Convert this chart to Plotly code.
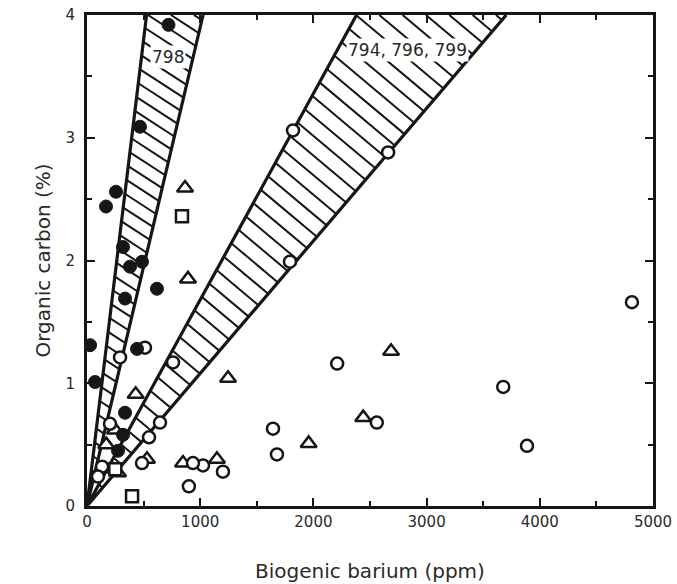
import math
import plotly.graph_objects as go

# ---- data ----
# Site 798 (filled circles)
ba_798 = [720, 468, 256, 168, 318, 380, 486, 618, 336, 27, 442, 71, 336, 318, 274]
c_798 = [3.92, 3.09, 2.56, 2.44, 2.11, 1.95, 1.99, 1.77, 1.69, 1.31, 1.28, 1.01, 0.76, 0.58, 0.45]

# open circles
ba_circ = [1820, 2660, 1793, 292, 512, 760, 2210, 1643, 1678, 1025, 1201, 900, 936,
           486, 645, 548, 3677, 3887, 4814, 2560, 203, 133, 97]
c_circ = [3.06, 2.88, 1.99, 1.21, 1.29, 1.17, 1.16, 0.63, 0.42, 0.33, 0.28, 0.16, 0.35,
          0.35, 0.68, 0.56, 0.97, 0.49, 1.66, 0.68, 0.67, 0.32, 0.24]

# open triangles
ba_tri = [866, 892, 1246, 1958, 2686, 2440, 848, 1148, 430, 530, 274, 247, 170]
c_tri = [2.59, 1.85, 1.04, 0.51, 1.26, 0.72, 0.35, 0.38, 0.91, 0.38, 0.27, 0.62, 0.50]

# open squares
ba_sq = [839, 398, 250]
c_sq = [2.36, 0.08, 0.30]

# Corg / Ba ratio bounds of the hatched fields
wedge_798 = [0.0076, 0.0039]
wedge_794 = [0.00168, 0.00108]
wedge_labels = ["798", "794, 796, 799"]

Y_MAX = 4
X_MAX = 5000

W, H = 677, 584
ML, MR, MT, MB = 87, 24, 15, 78
PLOT_W = W - ML - MR
PLOT_H = H - MT - MB
KX = PLOT_W / X_MAX
KY = PLOT_H / Y_MAX

fig = go.Figure()
INK = "#161616"


def hatch(slopes, angle_deg, spacing):
    """Diagonal hatch lines (down-right) clipped to the wedge between two ratio lines."""
    a1 = slopes[0] * KY / KX
    a2 = slopes[1] * KY / KX
    m = math.tan(math.radians(angle_deg))
    vmax = PLOT_H
    step = spacing * math.sqrt(1 + m * m)
    cmax = vmax + m * vmax / a2
    xs, ys = [], []
    c = step * 0.6
    while c < cmax:
        u1 = c / (a1 + m)
        v1 = a1 * u1
        if v1 > vmax:
            v1 = vmax
            u1 = (c - vmax) / m
        u2 = c / (a2 + m)
        v2 = a2 * u2
        xs += [u1 / KX, u2 / KX, None]
        ys += [v1 / KY, v2 / KY, None]
        c += step
    fig.add_trace(go.Scatter(x=xs, y=ys, mode="lines", line=dict(color=INK, width=2),
                             hoverinfo="skip", showlegend=False))


def wedge(slopes):
    xs = [Y_MAX / slopes[0], 0, Y_MAX / slopes[1]]
    ys = [Y_MAX, 0, Y_MAX]
    fig.add_trace(go.Scatter(x=xs, y=ys, mode="lines",
                             line=dict(color=INK, width=3.2),
                             hoverinfo="skip", showlegend=False))


hatch(wedge_798, 33, 12.5)
hatch(wedge_794, 40, 15)
wedge(wedge_798)
wedge(wedge_794)

mk_line = dict(color=INK, width=2.5)
fig.add_trace(go.Scatter(x=ba_tri, y=c_tri, mode="markers", showlegend=False,
                         marker=dict(symbol="triangle-up", size=14, color="white", line=mk_line)))
fig.add_trace(go.Scatter(x=ba_sq, y=c_sq, mode="markers", showlegend=False,
                         marker=dict(symbol="square", size=12, color="white", line=mk_line)))
fig.add_trace(go.Scatter(x=ba_circ, y=c_circ, mode="markers", showlegend=False,
                         marker=dict(symbol="circle", size=12, color="white", line=mk_line)))
fig.add_trace(go.Scatter(x=ba_798, y=c_798, mode="markers", showlegend=False,
                         marker=dict(symbol="circle", size=13, color=INK,
                                     line=dict(color=INK, width=1))))

FONT = "DejaVu Sans"
TXT = "#2a2a2a"

fig.add_annotation(x=716, y=3.66, text=wedge_labels[0], showarrow=False,
                   bgcolor="white", borderpad=1, font=dict(family=FONT, size=17, color=TXT))
fig.add_annotation(x=2827, y=3.715, text=wedge_labels[1], showarrow=False,
                   bgcolor="white", borderpad=1, font=dict(family=FONT, size=17, color=TXT))

axis_common = dict(
    showgrid=False, zeroline=False, automargin=False,
    showline=True, linecolor=INK, linewidth=3, mirror="ticks",
    ticks="inside", ticklen=8, tickwidth=2, tickcolor=INK,
    tickfont=dict(family=FONT, size=15, color=TXT),
)

fig.update_xaxes(range=[0, X_MAX], dtick=1000, tick0=0,
                 minor=dict(dtick=500, ticks="inside", ticklen=5, tickwidth=2, tickcolor=INK),
                 title=dict(text="Biogenic barium (ppm)", standoff=34,
                            font=dict(family=FONT, size=20, color=TXT)),
                 **axis_common)
fig.update_yaxes(range=[0, Y_MAX], dtick=1, tick0=0,
                 minor=dict(dtick=0.5, ticks="inside", ticklen=5, tickwidth=2, tickcolor=INK),
                 ticklabelstandoff=6,
                 title=dict(text="Organic carbon (%)", standoff=10,
                            font=dict(family=FONT, size=20, color=TXT)),
                 **axis_common)

fig.update_layout(
    width=W, height=H,
    margin=dict(l=ML, r=MR, t=MT, b=MB),
    plot_bgcolor="white", paper_bgcolor="white",
    showlegend=False,
)

fig.write_html("out.html")
